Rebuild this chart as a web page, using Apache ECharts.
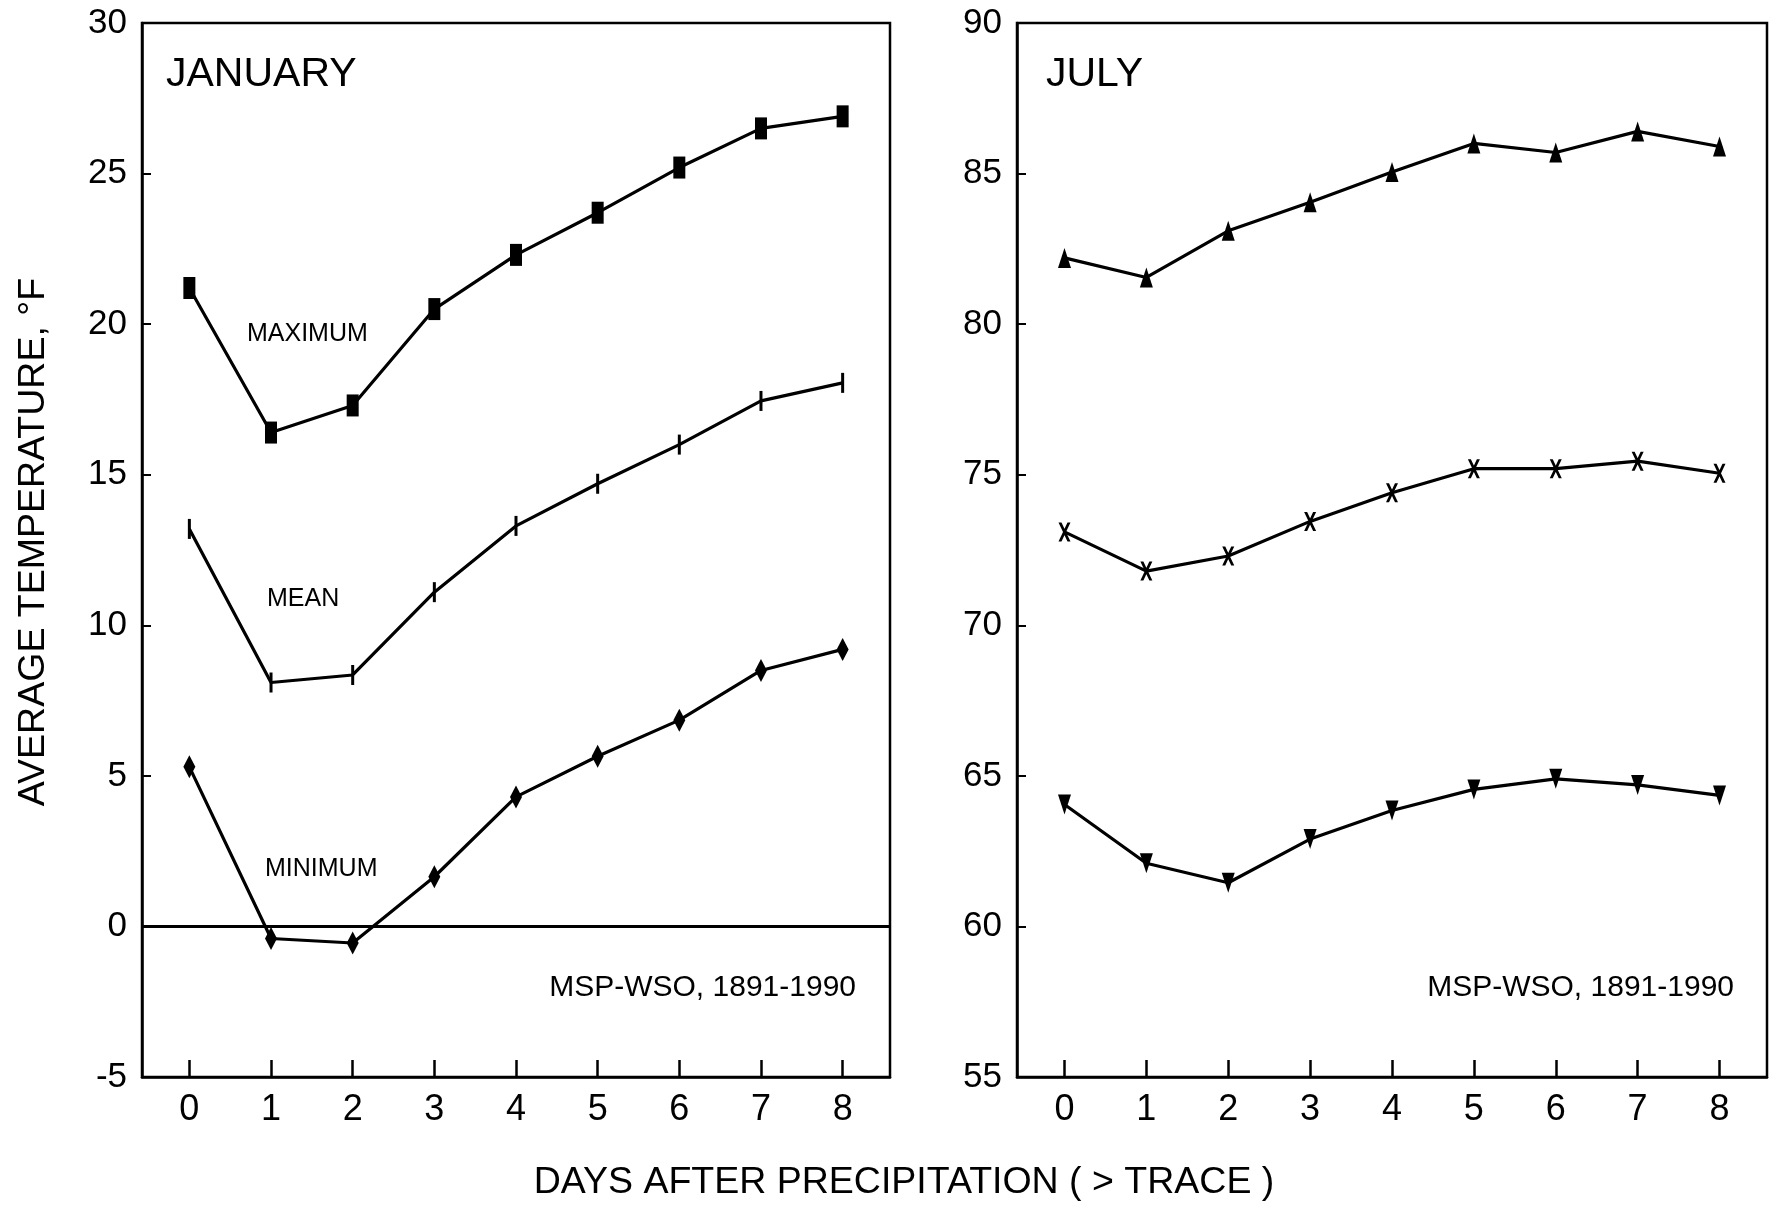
<!DOCTYPE html>
<html lang="en">

<head>
    <meta charset="UTF-8">
    <title>Average temperature after precipitation</title>
    <script src="https://cdn.jsdelivr.net/npm/echarts@6.0.0/dist/echarts.min.js"></script>
</head>

<body style="margin:0;background-color:#fff;">
    <div id="main" style="position:absolute;left:0;top:0;width:1771px;height:1206px"></div>

    <script>
        // days after precipitation
        var days = [0, 1, 2, 3, 4, 5, 6, 7, 8];

        // January, deg F
        var janMax = [21.2, 16.4, 17.3, 20.5, 22.3, 23.7, 25.2, 26.5, 26.9];
        var janMean = [13.2, 8.1, 8.35, 11.1, 13.3, 14.7, 16.0, 17.45, 18.05];
        var janMin = [5.3, -0.4, -0.55, 1.65, 4.3, 5.65, 6.85, 8.5, 9.2];

        // July, deg F
        var julMax = [82.2, 81.55, 83.1, 84.05, 85.05, 86.0, 85.7, 86.4, 85.9];
        var julMean = [73.1, 71.8, 72.3, 73.45, 74.4, 75.2, 75.2, 75.45, 75.05];
        var julMin = [64.05, 62.1, 61.45, 62.9, 63.85, 64.55, 64.9, 64.7, 64.35];

        var FONT = '"Liberation Sans", Arial, Helvetica, sans-serif';

        function pairs(vals) {
            return days.map(function(d, i) {
                return [d, vals[i]];
            });
        }

        function xAxisFor(gridIndex) {
            return {
                type: 'value',
                gridIndex: gridIndex,
                min: -0.58,
                max: 8.58,
                axisLine: { show: true, onZero: false, lineStyle: { color: '#000', width: 2.5 } },
                axisTick: {
                    show: true,
                    inside: true,
                    length: 17,
                    lineStyle: { color: '#000', width: 2.5 },
                    customValues: days
                },
                axisLabel: {
                    customValues: days,
                    color: '#000',
                    fontFamily: FONT,
                    fontSize: 36,
                    margin: 15
                },
                splitLine: { show: false }
            };
        }

        function yAxisFor(gridIndex, min, max) {
            return {
                type: 'value',
                gridIndex: gridIndex,
                min: min,
                max: max,
                interval: 5,
                axisLine: { show: true, onZero: false, lineStyle: { color: '#000', width: 2.5 } },
                axisTick: { show: true, inside: true, length: 9, lineStyle: { color: '#000', width: 2 } },
                axisLabel: { color: '#000', fontFamily: FONT, fontSize: 35, margin: 15 },
                splitLine: { show: false }
            };
        }

        function line(name, xi, vals, symbol, size, rotate) {
            return {
                name: name,
                type: 'line',
                xAxisIndex: xi,
                yAxisIndex: xi,
                data: pairs(vals),
                symbol: symbol,
                symbolSize: size,
                symbolRotate: rotate || 0,
                showSymbol: true,
                lineStyle: { color: '#000', width: 3.2 },
                itemStyle: { color: '#000' },
                animation: false
            };
        }

        var xPath = 'path://M0,0 L3,0 L12,18 L9,18 Z M9,0 L12,0 L3,18 L0,18 Z';

        var myCharts = echarts.init(document.getElementById('main'));

        var zeroSeries = line('MINIMUM', 0, janMin, 'diamond', [12, 23]);
        zeroSeries.markLine = {
            silent: true,
            symbol: 'none',
            label: { show: false },
            lineStyle: { color: '#000', width: 3, type: 'solid' },
            data: [{ yAxis: 0 }]
        };

        myCharts.setOption({
            backgroundColor: '#fff',
            grid: [
                { left: 142, top: 23, width: 748, height: 1054, show: true, borderColor: '#000', borderWidth: 2.5 },
                { left: 1017, top: 23, width: 750, height: 1054, show: true, borderColor: '#000', borderWidth: 2.5 }
            ],
            xAxis: [xAxisFor(0), xAxisFor(1)],
            yAxis: [yAxisFor(0, -5, 30), yAxisFor(1, 55, 90)],
            series: [
                line('MAXIMUM', 0, janMax, 'rect', [12, 22]),
                line('MEAN', 0, janMean, 'rect', [3, 20]),
                zeroSeries,
                line('MAXIMUM', 1, julMax, 'triangle', [13, 20]),
                line('MEAN', 1, julMean, xPath, [12, 19]),
                line('MINIMUM', 1, julMin, 'triangle', [13, 20], 180)
            ],
            graphic: [
                { type: 'text', x: 34, y: 542, rotation: Math.PI / 2,
                    style: { text: 'AVERAGE TEMPERATURE, °F', fill: '#000', font: '37.5px ' + FONT, textAlign: 'center', textVerticalAlign: 'middle' } },
                { type: 'text', x: 904, y: 1183,
                    style: { text: 'DAYS AFTER PRECIPITATION ( > TRACE )', fill: '#000', font: '37.5px ' + FONT, textAlign: 'center', textVerticalAlign: 'middle' } },
                { type: 'text', x: 166, y: 75, style: { text: 'JANUARY', fill: '#000', font: '41px ' + FONT, textVerticalAlign: 'middle' } },
                { type: 'text', x: 1046, y: 75, style: { text: 'JULY', fill: '#000', font: '41px ' + FONT, textVerticalAlign: 'middle' } },
                { type: 'text', x: 247, y: 334, style: { text: 'MAXIMUM', fill: '#000', font: '25px ' + FONT, textVerticalAlign: 'middle' } },
                { type: 'text', x: 267, y: 599, style: { text: 'MEAN', fill: '#000', font: '25px ' + FONT, textVerticalAlign: 'middle' } },
                { type: 'text', x: 265, y: 869, style: { text: 'MINIMUM', fill: '#000', font: '25px ' + FONT, textVerticalAlign: 'middle' } },
                { type: 'text', x: 856, y: 988, style: { text: 'MSP-WSO, 1891-1990', fill: '#000', font: '30px ' + FONT, textAlign: 'right', textVerticalAlign: 'middle' } },
                { type: 'text', x: 1734, y: 988, style: { text: 'MSP-WSO, 1891-1990', fill: '#000', font: '30px ' + FONT, textAlign: 'right', textVerticalAlign: 'middle' } }
            ]
        });
    </script>
</body>

</html>
